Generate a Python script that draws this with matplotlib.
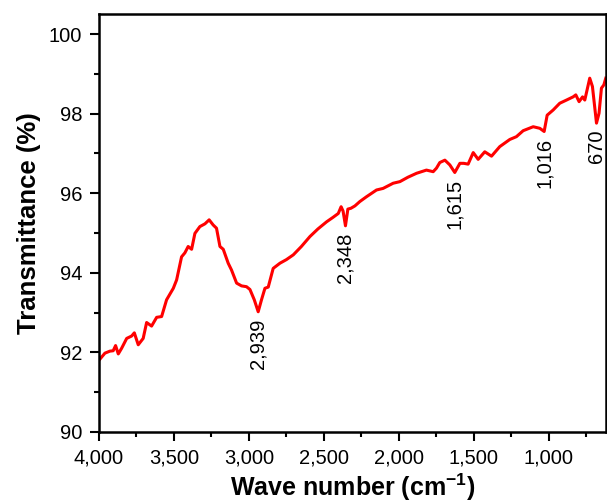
# FTIR transmittance spectrum with labelled absorption bands

import matplotlib
matplotlib.use("Agg")
import matplotlib.pyplot as plt
from matplotlib.ticker import MultipleLocator, FuncFormatter
import numpy as np

# spectrum (wave number in cm-1, transmittance in %)
wavenumber = [4000, 3960, 3927, 3905, 3889, 3871, 3849, 3815, 3782, 3764,
              3738, 3705, 3682, 3649, 3615, 3582, 3549, 3504, 3482, 3449,
              3427, 3405, 3382, 3360, 3327, 3293, 3265, 3238, 3216, 3193,
              3171, 3138, 3116, 3082, 3049, 3016, 2993, 2964, 2938, 2916,
              2893, 2871, 2838, 2793, 2750, 2704, 2650, 2593, 2540, 2482,
              2440, 2404, 2385, 2372, 2356, 2340, 2320, 2293, 2260, 2216,
              2149, 2105, 2038, 1993, 1940, 1882, 1816, 1771, 1749, 1727,
              1693, 1660, 1627, 1593, 1567, 1538, 1504, 1471, 1427, 1382,
              1327, 1260, 1216, 1171, 1104, 1060, 1031, 1011, 971, 927,
              882, 838, 820, 798, 775, 760, 727, 709, 682, 665,
              649, 633, 620]
transmittance = [91.80, 91.98, 92.03, 92.04, 92.17, 91.96, 92.10, 92.35, 92.41, 92.49,
                 92.19, 92.35, 92.75, 92.66, 92.88, 92.90, 93.32, 93.61, 93.82, 94.40,
                 94.50, 94.66, 94.59, 94.99, 95.16, 95.23, 95.33, 95.20, 95.12, 94.66,
                 94.59, 94.24, 94.07, 93.74, 93.67, 93.65, 93.58, 93.32, 93.02, 93.32,
                 93.61, 93.64, 94.11, 94.24, 94.33, 94.45, 94.66, 94.91, 95.10, 95.28,
                 95.39, 95.49, 95.66, 95.55, 95.18, 95.60, 95.62, 95.68, 95.79, 95.91,
                 96.08, 96.12, 96.25, 96.29, 96.40, 96.50, 96.58, 96.54, 96.63, 96.77,
                 96.83, 96.71, 96.52, 96.75, 96.75, 96.73, 97.02, 96.85, 97.04, 96.93,
                 97.17, 97.35, 97.42, 97.57, 97.67, 97.63, 97.55, 97.96, 98.09, 98.26,
                 98.34, 98.42, 98.47, 98.30, 98.42, 98.34, 98.89, 98.68, 97.76, 98.01,
                 98.64, 98.72, 98.89]

# labelled bands
peaks = [2939, 2348, 1615, 1016, 670]

plt.rcParams['font.family'] = ['Liberation Sans', 'DejaVu Sans']
plt.rcParams['mathtext.fontset'] = 'custom'
plt.rcParams['mathtext.rm'] = 'Liberation Sans'
plt.rcParams['mathtext.bf'] = 'Liberation Sans:bold'

fig = plt.figure(figsize=(6.07, 5.04), dpi=100)
ax = fig.add_axes([0.163, 0.143, 0.835, 0.829])

wn = np.array(wavenumber)
tr = np.array(transmittance)
ax.plot(wn, tr, color='#ff0000', linewidth=2.2)

# put each label just under the local minimum of its band
for p in peaks:
    win = np.abs(wn - p) <= 45
    i = np.argmin(np.where(win, tr, np.inf))
    ax.text(wn[i], tr[i] - 0.17, format(p, ','), rotation=90,
            ha='center', va='top', fontsize=14.5)

ax.set_xlim(4000, 620)
ax.set_ylim(90, 100.5)
ax.xaxis.set_major_locator(MultipleLocator(500))
ax.xaxis.set_minor_locator(MultipleLocator(250))
ax.yaxis.set_major_locator(MultipleLocator(2))
ax.yaxis.set_minor_locator(MultipleLocator(1))
ax.xaxis.set_major_formatter(FuncFormatter(lambda v, _: format(int(v), ',')))

ax.tick_params(which='both', direction='out', top=False, right=False, width=1.5)
ax.tick_params(which='major', length=6.5, pad=5.5, labelsize=14.5)
ax.tick_params(which='minor', length=3.5)
for s in ax.spines.values():
    s.set_linewidth(1.8)

ax.set_xlabel(r'Wave number (cm$^{\mathbf{-1}}$)', fontsize=18, fontweight='bold')
ax.set_ylabel('Transmittance (%)', fontsize=18.5, fontweight='bold')
ax.xaxis.set_label_coords(0.5, -0.095)
ax.yaxis.set_label_coords(-0.115, 0.5)

fig.savefig('out.png', dpi=100)
